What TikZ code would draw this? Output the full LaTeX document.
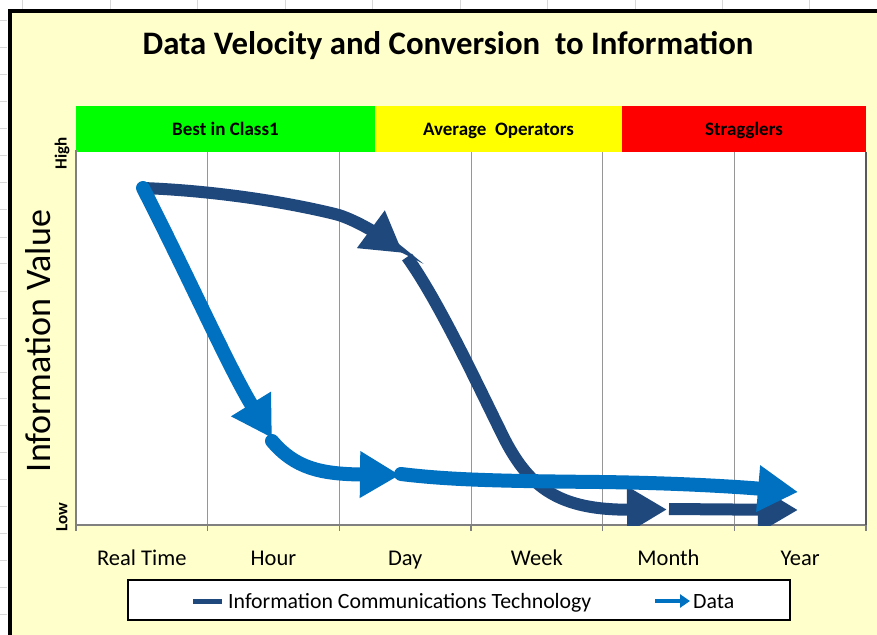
\documentclass[tikz,border=0pt]{standalone}
\usepackage{fontspec}
\setmainfont{Carlito}
\usetikzlibrary{arrows.meta}
\definecolor{ictblue}{RGB}{31,73,125}
\definecolor{datablue}{RGB}{0,112,192}
\definecolor{bgyellow}{RGB}{255,255,204}
\definecolor{gridgray}{RGB}{150,150,150}
\definecolor{axisgray}{RGB}{128,128,128}
\definecolor{sheetgray}{RGB}{215,215,215}
\definecolor{bandgreen}{RGB}{0,255,0}
\definecolor{bandyellow}{RGB}{255,255,0}
\definecolor{bandred}{RGB}{255,0,0}
\begin{document}
\begin{tikzpicture}[x=1pt,y=-1pt,
  sheet/.style={draw=sheetgray, line width=0.8pt},
  ict/.style={draw=ictblue, line width=12pt},
  data/.style={draw=datablue, line width=14pt},
  bigtip/.style={-{Triangle[length=40pt,width=44pt]}},
  bandlabel/.style={font=\bfseries\fontsize{19}{22}\selectfont, text=black, anchor=base},
  catlabel/.style={font=\fontsize{22.5}{26}\selectfont, anchor=base},
  hilo/.style={font=\bfseries\fontsize{17}{20}\selectfont, rotate=90},
  gridline/.style={draw=gridgray, line width=1pt},
  legtext/.style={font=\fontsize{21.8}{25}\selectfont, anchor=base west, inner sep=0pt}
]
\useasboundingbox (0,0) rectangle (877,634);
\fill[white] (0,0) rectangle (877,634);
% spreadsheet cell lines
\foreach \x in {22,110,197,285,372,460,547,635,722,809} \draw[sheet] (\x,0) -- (\x,9);
\foreach \y in {20,47,74,101,128,155,182,209,237,263,291,318,345,372,398,425,452,479,506,533,560,587,614} \draw[sheet] (0,\y) -- (7,\y);
% chart frame
\fill[bgyellow] (9.5,11) rectangle (890,650);
\draw[black, line width=4pt] (9.5,650) -- (9.5,11) -- (890,11);
% title
\node[font=\bfseries\fontsize{32.8}{37}\selectfont, anchor=base] (title) at (448,55) {Data Velocity and Conversion\ \ to Information};
% bands
\fill[bandgreen] (76,106) rectangle (375,152);
\fill[bandyellow] (375,106) rectangle (622,152);
\fill[bandred] (622,106) rectangle (866,152);
\node[bandlabel] (b1) at (225.5,135) {Best in Class1};
\node[bandlabel] (b2) at (498.5,135) {Average\ \ Operators};
\node[bandlabel] (b3) at (744,135) {Stragglers};
% plot area
\fill[white] (76,152) rectangle (866,525);
\foreach \x in {207.7,339.3,471,602.7,734.3} \draw[gridline] (\x,152) -- (\x,525);
\draw[axisgray, line width=1.6pt] (76,150) -- (76,525) -- (866,525);
\draw[black!65, line width=1.6pt] (866,152) -- (866,525);
\foreach \x in {76,207.7,339.3,471,602.7,734.3,866} \draw[axisgray, line width=1.2pt] (\x,525) -- (\x,531);
% axis labels
\node[catlabel] (c1) at (141.8,565) {Real Time};
\node[catlabel] (c2) at (273.5,565) {Hour};
\node[catlabel] (c3) at (405.2,565) {Day};
\node[catlabel] (c4) at (536.8,565) {Week};
\node[catlabel] (c5) at (668.5,565) {Month};
\node[catlabel] (c6) at (800.2,565) {Year};
\node[font=\fontsize{36}{40}\selectfont, rotate=90] (yl) at (38,341) {Information Value};
\node[hilo] (hi) at (62,153) {High};
\node[hilo] (lo) at (62,517) {Low};
% curves
\begin{scope}
\clip (76,152) rectangle (866,525);
\coordinate (s) at (143,188);
% ICT
\draw[ict, bigtip, line cap=round] (s) .. controls (220,191) and (290,203) .. (335,214) .. controls (355,219) and (380,236) .. (403,253);
\draw[ict, bigtip] (407,257) .. controls (440,303) and (480,390) .. (505,440) .. controls (530,488) and (560,510) .. (667,509.5);
\draw[ict, bigtip] (669,509) -- (798,510);
% Data
\draw[data, bigtip, line cap=round] (s) .. controls (190,280) and (230,370) .. (272,438);
\draw[data, bigtip, line cap=round] (272,441) .. controls (295,468) and (320,474) .. (400,475);
\draw[data, bigtip, line cap=round] (401,474) .. controls (450,480) and (500,481) .. (600,482) .. controls (680,483) and (740,487) .. (798,492);
\end{scope}
% legend
\draw[black, line width=2.5pt, fill=white] (128,580) rectangle (790,620);
\coordinate (l1a) at (193,601);
\coordinate (l1b) at (222,601);
\draw[ictblue, line width=5pt] (l1a) -- (l1b);
\node[legtext] (lt1) at (228,608) {Information Communications Technology};
\coordinate (l2a) at (655,601);
\coordinate (l2b) at (690,601);
\draw[datablue, line width=4.5pt, -{Triangle[length=10pt,width=13pt]}] (l2a) -- (l2b);
\node[legtext] (lt2) at (693,608) {Data};
\end{tikzpicture}
\end{document}
